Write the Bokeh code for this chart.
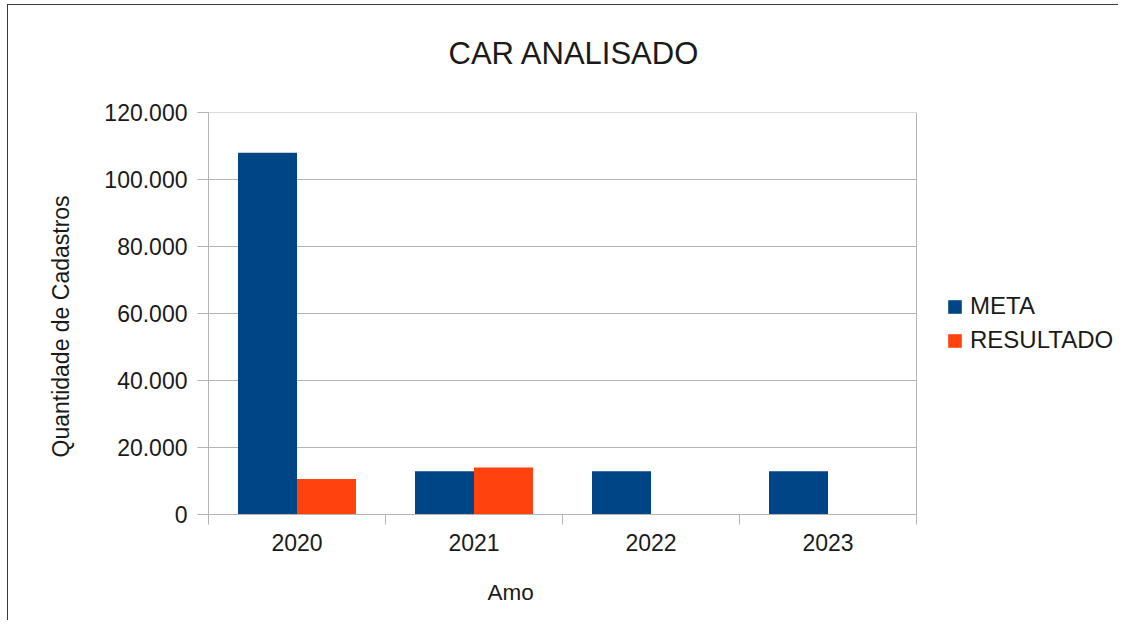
import numpy as np
from bokeh.plotting import figure
from bokeh.models import Legend, LegendItem, FixedTicker, Range1d, Title
from bokeh.embed import file_html
from bokeh.resources import INLINE

# ---- data ----
years = ["2020", "2021", "2022", "2023"]
meta = [108000, 12900, 12900, 12900]
resultado = [10600, 14000, float("nan"), float("nan")]
series_names = ["META", "RESULTADO"]
y_ticks = [0, 20000, 40000, 60000, 80000, 100000, 120000]
y_tick_labels = ["0", "20.000", "40.000", "60.000", "80.000", "100.000", "120.000"]
title_text = "CAR ANALISADO"
x_title = "Amo"
y_title = "Quantidade de Cadastros"

# ---- layout / style ----
FIG_W, FIG_H = 1118, 620
LEFT, TOP, BOTTOM = 208, 112, 106
PLOT_W = 708            # width of the visible plot area; the frame runs on to hold the legend
FONT = "Liberation Sans"
TXT = "#1a1a1a"
GRID = "#b3b3b3"
C_META = "#004586"
C_RES = "#ff420e"

n = len(years)
x_end = n * (FIG_W - LEFT) / PLOT_W

bg = ("linear-gradient(#3a3a3a,#3a3a3a) 7px 4px / 1px 100% no-repeat, "
      "linear-gradient(#3a3a3a,#3a3a3a) 7px 4px / 100% 1px no-repeat, white")

p = figure(width=FIG_W, height=FIG_H, output_backend="svg", toolbar_location=None,
           x_range=Range1d(0, x_end), y_range=Range1d(y_ticks[0], y_ticks[-1]),
           min_border_left=LEFT, min_border_right=0, min_border_top=TOP,
           min_border_bottom=BOTTOM, styles={"background": bg})
p.background_fill_color = "white"
p.border_fill_alpha = 0
p.outline_line_color = None

# title
p.title.text = title_text
p.title.align = "left"
p.title.offset = 240
p.title.standoff = 10
p.title.padding = (0, 0, 0, 37)
p.title.text_font = FONT
p.title.text_font_size = "31px"
p.title.text_font_style = "normal"
p.title.text_color = TXT

# x axis: labels at category centres, tick marks at category boundaries
centers = [i + 0.5 for i in range(n)]
bounds = [float(i) for i in range(n + 1)]
p.xaxis.bounds = (0, n)
p.xaxis.ticker = FixedTicker(ticks=centers, minor_ticks=bounds)
p.xaxis.major_label_overrides = {c: y for c, y in zip(centers, years)}
p.xaxis.major_tick_out = 0
p.xaxis.major_tick_in = 0
p.xaxis.minor_tick_out = 10
p.xaxis.minor_tick_in = 0
p.xaxis.minor_tick_line_color = GRID
p.xaxis.axis_line_color = GRID
p.xaxis.major_label_standoff = 9
p.xaxis.major_label_text_font = FONT
p.xaxis.major_label_text_font_size = "23px"
p.xaxis.major_label_text_color = TXT

# right-hand edge of the plot area
p.xgrid.ticker = FixedTicker(ticks=[n])
p.xgrid.grid_line_color = GRID

# y axis
p.yaxis.ticker = FixedTicker(ticks=y_ticks)
p.yaxis.major_label_overrides = {t: l for t, l in zip(y_ticks, y_tick_labels)}
p.yaxis.major_tick_out = 11
p.yaxis.major_tick_in = 0
p.yaxis.major_tick_line_color = GRID
p.yaxis.minor_tick_line_color = None
p.yaxis.axis_line_color = GRID
p.yaxis.major_label_standoff = 10
p.yaxis.major_label_text_font = FONT
p.yaxis.major_label_text_font_size = "23px"
p.yaxis.major_label_text_color = TXT
p.ygrid.visible = False
# horizontal grid lines limited to the plot area
p.segment(x0=[0] * len(y_ticks), x1=[n] * len(y_ticks), y0=y_ticks, y1=y_ticks,
          line_color=GRID, line_width=1)

# axis titles
p.add_layout(Title(text=x_title, align="left", offset=279, standoff=0,
                   vertical_align="top", padding=(0, 0, 26, 0),
                   text_font=FONT, text_font_size="22.5px", text_font_style="normal",
                   text_color=TXT), "below")
p.add_layout(Title(text=y_title, align="left", offset=57, standoff=56,
                   text_font=FONT, text_font_size="23px", text_font_style="normal",
                   text_color=TXT), "left")

# bars
bw = 1 / 3
xs = np.array(centers)
r_meta = p.vbar(x=xs - bw / 2, top=meta, width=bw, fill_color=C_META, line_color=None)
r_res = p.vbar(x=xs + bw / 2, top=resultado, width=bw, fill_color=C_RES, line_color=None)

legend = Legend(items=[LegendItem(label=series_names[0], renderers=[r_meta]),
                       LegendItem(label=series_names[1], renderers=[r_res])],
                location=(738, 160), orientation="vertical",
                glyph_width=17, glyph_height=17, label_standoff=7, spacing=6,
                label_height=28, padding=0, margin=0,
                border_line_color=None, background_fill_alpha=0,
                label_text_font=FONT, label_text_font_size="24px",
                label_text_color=TXT)
p.add_layout(legend)

open("out.html", "w").write(file_html(p, INLINE))
